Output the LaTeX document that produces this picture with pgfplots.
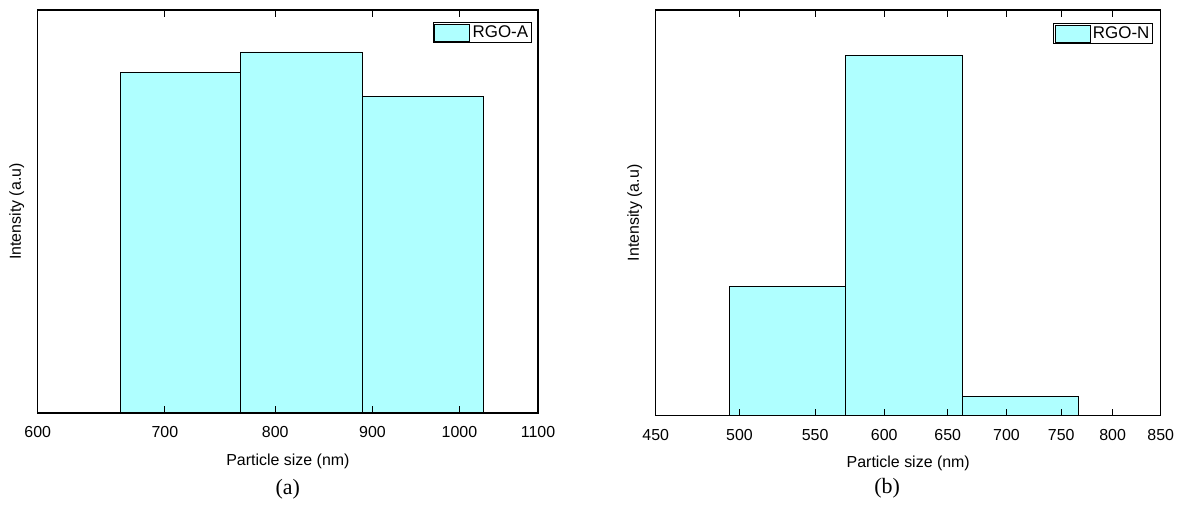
\documentclass[border=0pt]{standalone}
\usepackage{fontspec}
\setmainfont{Liberation Sans}
\newfontfamily\timesfont{Liberation Serif}
\usepackage{pgfplots}
\pgfplotsset{compat=1.18}
\definecolor{barcyan}{RGB}{175,255,255}
\pgfplotsset{
  histo/.style={
    scale only axis,
    axis on top,
    axis line style={line width=1.2bp},
    every tick/.style={black, line width=1bp},
    major tick length=7bp,
    ymin=0, ymax=1, ytick=\empty,
    minor xtick={},
    /pgf/number format/assume math mode=true,
    tick label style={font=\fontsize{16}{18}\selectfont},
    xticklabel style={anchor=center, yshift=-19bp},
    xlabel={Particle size (nm)},
    ylabel={Intensity (a.u)},
    every axis x label/.style={at={(axis description cs:0.5,0)}, anchor=center, yshift=-48bp, font=\fontsize{16}{18}\selectfont},
    every axis y label/.style={at={(axis description cs:0,0.5)}, anchor=center, rotate=90, yshift=21bp, font=\fontsize{16}{18}\selectfont},
    legend style={at={(1,1)}, anchor=north east, draw=black, line width=0.8bp,
      inner sep=1bp, font=\fontsize{17}{19}\selectfont, legend cell align=left,
      nodes={inner sep=2.5bp}},
  },
  histbar/.style={ybar interval, fill=barcyan, draw=black, line width=0.8bp,
    legend image code/.code={\draw[fill=barcyan, draw=black, line width=0.8bp] (0bp,-8.5bp) rectangle (35bp,8.5bp);}},
}
\begin{document}
\begin{tikzpicture}
\begin{axis}[xmode=log, histo, name=A,
  at={(37.7bp,93bp)}, anchor=south west,
  width=500.3bp, height=403bp,
  xmin=600, xmax=1100,
  xtick={600,700,800,900,1000,1100},
  xticklabels={600,700,800,900,1000,1100},
  legend style={xshift=-6bp, yshift=-12bp},
]
\addplot[histbar] coordinates {(663,0.844) (767,0.896) (889,0.785) (1029,0.785)};
\addlegendentry{RGO-A}
\end{axis}
\node[font=\timesfont\fontsize{22}{24}\selectfont] at ([yshift=-76bp]A.south) {(a)};

\begin{axis}[xmode=log, histo, name=B,
  at={(655.7bp,90.3bp)}, anchor=south west,
  width=505bp, height=405.7bp,
  xmin=450, xmax=850,
  xtick={450,500,550,600,650,700,750,800,850},
  xticklabels={450,500,550,600,650,700,750,800,850},
  legend style={xshift=-7.5bp, yshift=-13bp},
]
\addplot[histbar] coordinates {(493.5,0.318) (571.3,0.888) (662.3,0.047) (766.6,0.047)};
\addlegendentry{RGO-N}
\end{axis}
\node[font=\timesfont\fontsize{22}{24}\selectfont] at ([yshift=-73bp, xshift=-21bp]B.south) {(b)};

\pgfresetboundingbox
\path (0,0) rectangle (1183bp,506bp);
\end{tikzpicture}
\end{document}
